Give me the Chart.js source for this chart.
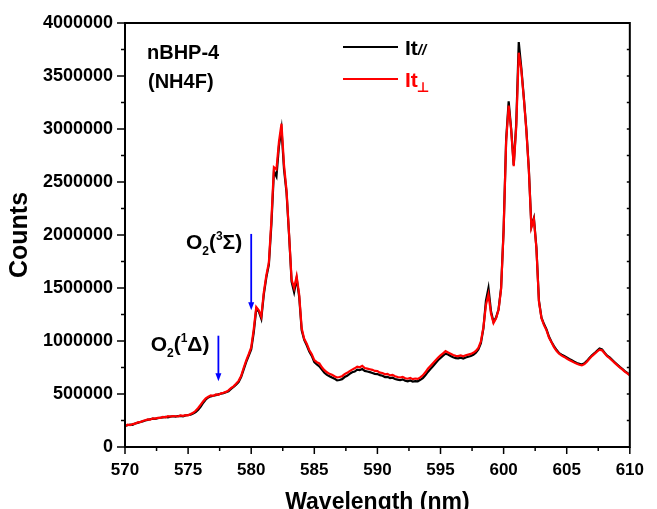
<!DOCTYPE html>
<html>
<head>
<meta charset="utf-8">
<script src="https://cdn.jsdelivr.net/npm/chart.js@4.4.0/dist/chart.umd.min.js"></script>
<style>
  html, body { margin: 0; padding: 0; background: #fff; }
  #wrap { width: 657px; height: 509px; }
</style>
</head>
<body>
<div id="wrap"><canvas id="grafico" width="657" height="509"></canvas></div>
<script>
// longitudes de onda (nm), cada 0.2 nm
const longitudes = [
  570,570.2,570.4,570.6,570.8,571,571.2,571.4,571.6,571.8,
  572,572.2,572.4,572.6,572.8,573,573.2,573.4,573.6,573.8,
  574,574.2,574.4,574.6,574.8,575,575.2,575.4,575.6,575.8,
  576,576.2,576.4,576.6,576.8,577,577.2,577.4,577.6,577.8,
  578,578.2,578.4,578.6,578.8,579,579.2,579.4,579.6,579.8,
  580,580.2,580.4,580.6,580.8,581,581.2,581.4,581.6,581.8,
  582,582.2,582.4,582.6,582.8,583,583.2,583.4,583.6,583.8,
  584,584.2,584.4,584.6,584.8,585,585.2,585.4,585.6,585.8,
  586,586.2,586.4,586.6,586.8,587,587.2,587.4,587.6,587.8,
  588,588.2,588.4,588.6,588.8,589,589.2,589.4,589.6,589.8,
  590,590.2,590.4,590.6,590.8,591,591.2,591.4,591.6,591.8,
  592,592.2,592.4,592.6,592.8,593,593.2,593.4,593.6,593.8,
  594,594.2,594.4,594.6,594.8,595,595.2,595.4,595.6,595.8,
  596,596.2,596.4,596.6,596.8,597,597.2,597.4,597.6,597.8,
  598,598.2,598.4,598.6,598.8,599,599.2,599.4,599.6,599.8,
  600,600.2,600.4,600.6,600.8,601,601.2,601.4,601.6,601.8,
  602,602.2,602.4,602.6,602.8,603,603.2,603.4,603.6,603.8,
  604,604.2,604.4,604.6,604.8,605,605.2,605.4,605.6,605.8,
  606,606.2,606.4,606.6,606.8,607,607.2,607.4,607.6,607.8,
  608,608.2,608.4,608.6,608.8,609,609.2,609.4,609.6,609.8,
  610
];

// It paralelo (negro)
const itParalelo = [
  200000,205000,212000,208000,222000,228000,236000,242000,250000,256000,
  262000,268000,265000,272000,276000,280000,284000,280000,287000,290000,
  286000,292000,294000,290000,298000,302000,306000,316000,330000,352000,
  382000,418000,448000,468000,478000,484000,490000,496000,502000,508000,
  516000,526000,548000,568000,588000,612000,660000,730000,800000,860000,
  920000,1080000,1300000,1280000,1210000,1440000,1600000,1720000,2100000,2600000,
  2550000,2840000,3000000,2620000,2400000,2000000,1560000,1460000,1590000,1420000,
  1100000,1010000,960000,900000,860000,800000,780000,760000,730000,700000,
  680000,668000,655000,645000,628000,632000,640000,660000,672000,690000,
  705000,712000,730000,726000,735000,718000,712000,706000,698000,690000,
  688000,678000,672000,660000,662000,650000,654000,642000,636000,630000,
  638000,626000,620000,628000,618000,622000,620000,634000,650000,676000,
  708000,735000,762000,790000,818000,840000,862000,880000,872000,858000,
  846000,838000,836000,842000,834000,845000,852000,858000,870000,890000,
  920000,980000,1120000,1380000,1500000,1280000,1180000,1220000,1300000,1500000,
  2050000,2900000,3260000,3000000,2660000,3050000,3820000,3580000,3300000,3000000,
  2620000,2080000,2160000,1880000,1380000,1220000,1160000,1110000,1040000,990000,
  950000,915000,885000,870000,858000,845000,830000,818000,805000,792000,
  785000,778000,790000,812000,840000,866000,885000,908000,930000,920000,
  890000,862000,845000,822000,800000,778000,756000,738000,716000,700000,
  680000
];

// It perpendicular (rojo)
const itPerpendicular = [
  196000,210000,206000,216000,220000,232000,234000,246000,252000,260000,
  258000,270000,268000,276000,274000,284000,280000,290000,286000,292000,
  290000,288000,298000,294000,300000,298000,312000,322000,342000,368000,
  400000,432000,458000,474000,486000,482000,496000,492000,506000,512000,
  520000,534000,556000,572000,596000,624000,670000,745000,815000,875000,
  940000,1110000,1320000,1290000,1230000,1460000,1620000,1740000,2140000,2640000,
  2620000,2880000,3050000,2660000,2420000,2010000,1580000,1500000,1610000,1440000,
  1120000,1020000,975000,915000,875000,820000,800000,790000,752000,725000,
  705000,690000,682000,668000,656000,660000,668000,688000,700000,716000,
  730000,742000,758000,752000,766000,745000,740000,734000,728000,718000,
  716000,702000,698000,686000,690000,676000,680000,668000,660000,656000,
  662000,648000,644000,652000,640000,646000,642000,656000,676000,705000,
  738000,764000,790000,816000,842000,864000,884000,904000,892000,880000,
  868000,860000,858000,864000,856000,866000,872000,878000,888000,906000,
  935000,995000,1130000,1340000,1440000,1260000,1170000,1215000,1295000,1490000,
  2040000,2880000,3220000,2990000,2650000,3020000,3720000,3560000,3290000,2990000,
  2610000,2070000,2150000,1870000,1370000,1215000,1150000,1100000,1030000,985000,
  940000,905000,880000,862000,850000,835000,820000,808000,796000,785000,
  776000,770000,782000,804000,832000,858000,878000,900000,918000,912000,
  884000,856000,838000,816000,794000,772000,750000,732000,712000,694000,
  675000
];

// flechas azules: posicion en nm, inicio y punta en cuentas
const flechaX = [580.0, 577.4];
const flechaInicio = [2010000, 1050000];
const flechaPunta = [1290000, 620000];
const flechaSup = ['3', '1'];
const flechaLetra = ['\u03A3', '\u0394'];

const FUENTE = '"Liberation Sans", Arial, sans-serif';

function textoO2(ctx, xDer, base, sup, letra) {
  const grande = 'bold 21px ' + FUENTE;
  const chica = 'bold 12px ' + FUENTE;
  const partes = [
    ['O', grande, 0], ['2', chica, 6], ['(', grande, 0], [sup, chica, -9], [letra + ')', grande, 0]
  ];
  let total = 0;
  partes.forEach(p => { ctx.font = p[1]; total += ctx.measureText(p[0]).width; });
  let x = xDer - total;
  ctx.fillStyle = '#000';
  ctx.textAlign = 'left';
  ctx.textBaseline = 'alphabetic';
  partes.forEach(p => {
    ctx.font = p[1];
    ctx.fillText(p[0], x, base + p[2]);
    x += ctx.measureText(p[0]).width;
  });
}

const adornos = {
  id: 'adornos',
  afterDraw(chart) {
    const ctx = chart.ctx;
    const xs = chart.scales.x, ys = chart.scales.y;
    const a = chart.chartArea;
    ctx.save();

    // marco
    ctx.strokeStyle = '#000';
    ctx.lineWidth = 2;
    ctx.strokeRect(a.left, a.top, a.right - a.left, a.bottom - a.top);

    // marcas de los ejes
    ctx.lineWidth = 1.5;
    xs.ticks.forEach(t => {
      const px = xs.getPixelForValue(t.value);
      const mayor = t.value % 5 === 0;
      ctx.beginPath();
      ctx.moveTo(px, a.bottom);
      ctx.lineTo(px, a.bottom + (mayor ? 7 : 4));
      ctx.stroke();
    });
    ys.ticks.forEach(t => {
      const py = ys.getPixelForValue(t.value);
      const mayor = t.value % 500000 === 0;
      ctx.beginPath();
      ctx.moveTo(a.left, py);
      ctx.lineTo(a.left - (mayor ? 8 : 4), py);
      ctx.stroke();
      ctx.beginPath();
      ctx.moveTo(a.right, py);
      ctx.lineTo(a.right - 3, py);
      ctx.stroke();
    });

    // flechas y etiquetas O2
    flechaX.forEach((fx, i) => {
      const px = xs.getPixelForValue(fx);
      const y1 = ys.getPixelForValue(flechaInicio[i]);
      const y2 = ys.getPixelForValue(flechaPunta[i]);
      ctx.strokeStyle = '#0000ff';
      ctx.fillStyle = '#0000ff';
      ctx.lineWidth = 1.8;
      ctx.beginPath();
      ctx.moveTo(px, y1);
      ctx.lineTo(px, y2 - 6);
      ctx.stroke();
      ctx.beginPath();
      ctx.moveTo(px - 3, y2 - 8);
      ctx.lineTo(px + 3, y2 - 8);
      ctx.lineTo(px, y2);
      ctx.closePath();
      ctx.fill();
      textoO2(ctx, px - 9, y1 + 15, flechaSup[i], flechaLetra[i]);
    });

    // textos de la muestra
    ctx.fillStyle = '#000';
    ctx.textAlign = 'left';
    ctx.textBaseline = 'alphabetic';
    ctx.font = 'bold 20px ' + FUENTE;
    ctx.fillText('nBHP-4', 147, 59);
    ctx.fillText('(NH4F)', 148, 88);

    // leyenda
    ctx.lineWidth = 2;
    ctx.strokeStyle = '#000';
    ctx.beginPath(); ctx.moveTo(343, 47); ctx.lineTo(398, 47); ctx.stroke();
    ctx.font = 'bold 21px ' + FUENTE;
    ctx.fillText('It', 405, 55);
    let w = ctx.measureText('It').width;
    ctx.font = 'italic bold 15px ' + FUENTE;
    ctx.fillText('//', 405 + w, 55);

    ctx.strokeStyle = '#ff0000';
    ctx.fillStyle = '#ff0000';
    ctx.beginPath(); ctx.moveTo(343, 79); ctx.lineTo(398, 79); ctx.stroke();
    ctx.font = 'bold 21px ' + FUENTE;
    ctx.fillText('It', 405, 87);
    ctx.font = 'bold 14px "DejaVu Sans", ' + FUENTE;
    ctx.fillText('\u22A5', 405 + w - 1, 92);

    ctx.restore();
  }
};

const puntos = serie => longitudes.map((l, i) => ({ x: l, y: serie[i] }));

new Chart(document.getElementById('grafico'), {
  type: 'line',
  data: {
    datasets: [
      {
        label: 'It//',
        data: puntos(itParalelo),
        borderColor: '#000000',
        borderWidth: 2.2,
        pointRadius: 0,
        tension: 0,
        order: 2
      },
      {
        label: 'It\u22A5',
        data: puntos(itPerpendicular),
        borderColor: '#ff0000',
        borderWidth: 2.2,
        pointRadius: 0,
        tension: 0,
        order: 1
      }
    ]
  },
  options: {
    responsive: false,
    animation: false,
    devicePixelRatio: 1,
    layout: { padding: { top: 23, right: 18, left: 0, bottom: 0 } },
    plugins: {
      legend: { display: false },
      tooltip: { enabled: false }
    },
    scales: {
      x: {
        type: 'linear',
        min: 570,
        max: 610,
        grid: { display: false, drawTicks: false },
        border: { display: false },
        ticks: {
          stepSize: 2.5,
          autoSkip: false,
          maxRotation: 0,
          padding: 13,
          color: '#000',
          font: { family: FUENTE, size: 17, weight: 'bold' },
          callback: v => (v % 5 === 0 ? String(v) : '')
        },
        title: {
          display: true,
          text: 'Wavelength (nm)',
          color: '#000',
          font: { family: FUENTE, size: 23, weight: 'bold' },
          padding: { top: 0, bottom: -7 }
        },
        afterFit: s => { s.height = 62; }
      },
      y: {
        min: 0,
        max: 4000000,
        grid: { display: false, drawTicks: false },
        border: { display: false },
        ticks: {
          stepSize: 250000,
          autoSkip: false,
          padding: 12,
          color: '#000',
          font: { family: FUENTE, size: 18, weight: 'bold' },
          callback: v => (v % 500000 === 0 ? String(v) : '')
        },
        title: {
          display: true,
          text: 'Counts',
          color: '#000',
          font: { family: FUENTE, size: 25, weight: 'bold' },
          padding: { top: 5, bottom: 0 }
        },
        afterFit: s => { s.width = 125; }
      }
    }
  },
  plugins: [adornos]
});
</script>
</body>
</html>
